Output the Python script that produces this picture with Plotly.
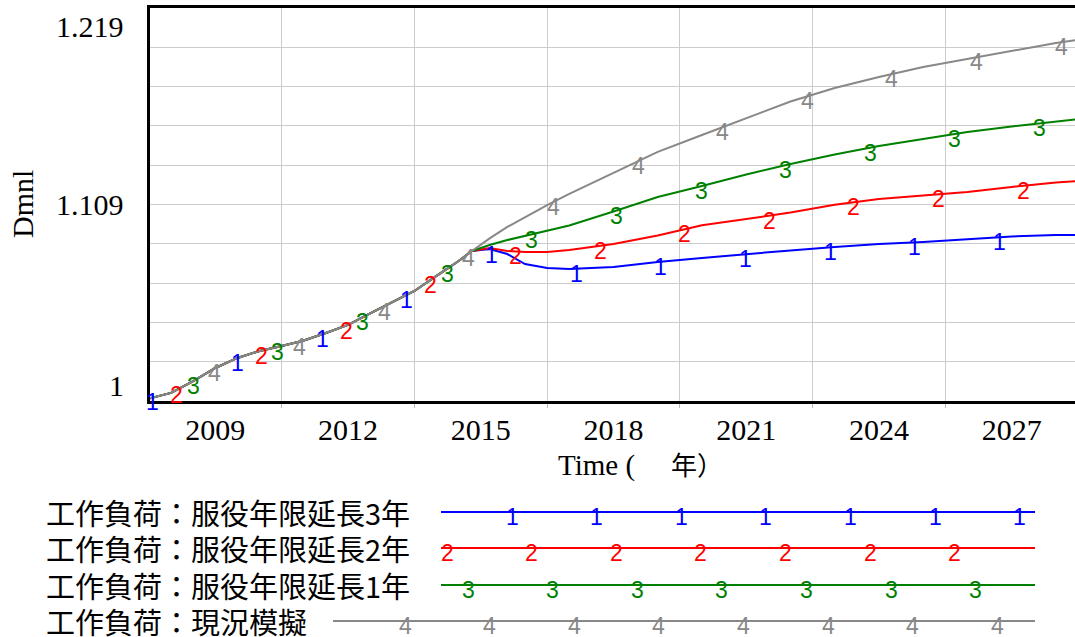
import numpy as np
import plotly.graph_objects as go

# Simulation time (years)
time = [2007.5, 2008, 2008.5, 2009, 2009.5, 2010, 2010.5, 2011, 2011.5, 2012,
        2012.5, 2013, 2013.5, 2014, 2014.5, 2014.8, 2015.2, 2015.6, 2016, 2016.5,
        2017, 2018, 2019, 2020, 2021, 2022, 2023, 2024, 2025, 2026, 2027, 2028, 2028.5]

# 工作負荷 (Dmnl) under each scenario
extend_3yr = [1.0014, 1.0045, 1.0111, 1.0184, 1.0240, 1.0279, 1.0306, 1.0337, 1.0379, 1.0424,
              1.0488, 1.0549, 1.0613, 1.0697, 1.0780, 1.0836, 1.0847, 1.0819, 1.0763, 1.0741,
              1.0736, 1.0747, 1.0775, 1.0797, 1.0819, 1.0839, 1.0858, 1.0875, 1.0886, 1.0900,
              1.0917, 1.0925, 1.0925]
extend_2yr = [1.0014, 1.0045, 1.0111, 1.0184, 1.0240, 1.0279, 1.0306, 1.0337, 1.0379, 1.0424,
              1.0488, 1.0549, 1.0613, 1.0697, 1.0780, 1.0836, 1.0853, 1.0836, 1.0830, 1.0830,
              1.0841, 1.0875, 1.0922, 1.0979, 1.1014, 1.1050, 1.1093, 1.1126, 1.1145, 1.1165,
              1.1193, 1.1218, 1.1226]
extend_1yr = [1.0014, 1.0045, 1.0111, 1.0184, 1.0240, 1.0279, 1.0306, 1.0337, 1.0379, 1.0424,
              1.0488, 1.0549, 1.0613, 1.0697, 1.0780, 1.0836, 1.0869, 1.0897, 1.0919, 1.0947,
              1.0978, 1.1056, 1.1137, 1.1198, 1.1262, 1.1321, 1.1374, 1.1421, 1.1460, 1.1499,
              1.1530, 1.1560, 1.1571]
baseline = [1.0014, 1.0045, 1.0111, 1.0184, 1.0240, 1.0279, 1.0306, 1.0337, 1.0379, 1.0424,
            1.0488, 1.0549, 1.0613, 1.0697, 1.0780, 1.0836, 1.0906, 1.0970, 1.1025, 1.1092,
            1.1154, 1.1271, 1.1388, 1.1482, 1.1574, 1.1669, 1.1744, 1.1806, 1.1861, 1.1906,
            1.1950, 1.1995, 1.2012]

series_names = ["工作負荷：服役年限延長3年", "工作負荷：服役年限延長2年",
                "工作負荷：服役年限延長1年", "工作負荷：現況模擬"]
series_values = [extend_3yr, extend_2yr, extend_1yr, baseline]
series_colors = ["#0000ff", "#ff0000", "#008000", "#888888"]

x_tick_labels = [2009, 2012, 2015, 2018, 2021, 2024, 2027]
y_min, y_max = 1.0, 1.219
y_label_texts = ["1", "1.109", "1.219"]

# ---- geometry (pixels) ----
W, H = 1075, 637
PL, PR, PT, PB = 150, 1075, 8, 401
X0, X1 = 2007.523, 2028.432


def xp(px):
    return (px - PL) / (PR - PL)


def yp(py):
    return (PB - py) / (PB - PT)


DIGIT_FONT = dict(family="Liberation Sans, Arial, sans-serif", size=23)
SERIF = "Liberation Serif, Times New Roman, serif"
CJK = "Noto Sans CJK TC, Noto Sans CJK JP, sans-serif"

fig = go.Figure()
annotations = []
shapes = []

# series lines with numbered identifiers along each curve
label_start = [2007.59, 2008.13, 2008.50, 2008.99]
label_step = 1.913
for i, (vals, color) in enumerate(zip(series_values, series_colors)):
    fig.add_trace(go.Scatter(x=time, y=vals, mode="lines",
                             line=dict(color=color, width=2),
                             showlegend=False, hoverinfo="skip"))
    t_lab = label_start[i] + label_step * np.arange(11)
    t_lab = t_lab[t_lab <= X1 - 0.1]
    y_lab = np.interp(t_lab, time, vals)
    for tx, ty in zip(t_lab, y_lab):
        annotations.append(dict(x=tx, y=ty, xref="x", yref="y", text=str(i + 1),
                                showarrow=False, yshift=-5,
                                xanchor="center", yanchor="middle",
                                font=dict(color=color, **DIGIT_FONT)))

# y-axis labels: bottom, middle, top
annotations += [
    dict(x=xp(126), y=y_min, xref="paper", yref="y", text=y_label_texts[0],
         xanchor="right", yanchor="bottom", yshift=-3, showarrow=False,
         font=dict(family=SERIF, size=30, color="black")),
    dict(x=xp(126), y=(y_min + y_max) / 2, xref="paper", yref="y", text=y_label_texts[1],
         xanchor="right", yanchor="middle", showarrow=False,
         font=dict(family=SERIF, size=30, color="black")),
    dict(x=xp(126), y=y_max, xref="paper", yref="y", text=y_label_texts[2],
         xanchor="right", yanchor="top", showarrow=False,
         font=dict(family=SERIF, size=30, color="black")),
]

# axis titles
annotations += [
    dict(x=xp(22), y=yp(204), xref="paper", yref="paper", text="Dmnl", textangle=-90,
         xanchor="center", yanchor="middle",
         showarrow=False, font=dict(family=SERIF, size=30, color="black")),
    dict(x=xp(596), y=yp(465), xref="paper", yref="paper", text="Time (",
         xanchor="center", yanchor="middle",
         showarrow=False, font=dict(family=SERIF, size=29, color="black")),
    dict(x=xp(697), y=yp(463), xref="paper", yref="paper", text="年）",
         xanchor="center", yanchor="middle",
         showarrow=False, font=dict(family=CJK, size=26, color="black")),
]

# legend block below the chart
legend_rows = [512, 548, 585, 621]
legend_line_start = [441, 441, 441, 333]
legend_mark_start = [512, 447, 468, 405]
legend_mark_count = [7, 7, 7, 8]
for i, name in enumerate(series_names):
    row = legend_rows[i]
    annotations.append(dict(x=xp(44), y=yp(row), xref="paper", yref="paper", text=name,
                            xanchor="left", yanchor="middle", showarrow=False,
                            font=dict(family=CJK, size=29, color="black")))
    shapes.append(dict(type="line", xref="paper", yref="paper",
                       x0=xp(legend_line_start[i]), x1=xp(1035), y0=yp(row), y1=yp(row),
                       line=dict(color=series_colors[i], width=2)))
    for k in range(legend_mark_count[i]):
        annotations.append(dict(x=xp(legend_mark_start[i] + 84.6 * k), y=yp(row + 5),
                                xref="paper", yref="paper", text=str(i + 1),
                                xanchor="center", yanchor="middle",
                                showarrow=False,
                                font=dict(color=series_colors[i], **DIGIT_FONT)))

fig.update_layout(
    width=W, height=H,
    margin=dict(l=PL, r=W - PR, t=PT, b=H - PB),
    plot_bgcolor="white", paper_bgcolor="white",
    showlegend=False,
    annotations=annotations, shapes=shapes,
)
fig.update_xaxes(
    range=[X0, X1], tickmode="array", tickvals=x_tick_labels,
    ticktext=[str(v) for v in x_tick_labels],
    tickfont=dict(family=SERIF, size=30, color="black"),
    showgrid=False, ticks="", zeroline=False,
    showline=True, linecolor="black", linewidth=3, mirror=True,
    minor=dict(tickmode="array", tickvals=[2010.5, 2013.5, 2016.5, 2019.5, 2022.5, 2025.5, 2028.5],
               showgrid=True, gridcolor="#cccccc", gridwidth=1,
               ticks="outside", ticklen=4, tickcolor="#bbbbbb"),
)
fig.update_yaxes(
    range=[y_min, y_max], tickmode="array",
    tickvals=list(np.linspace(y_min, y_max, 11)),
    showticklabels=False, ticks="", showgrid=True, gridcolor="#cccccc", gridwidth=1,
    zeroline=False, showline=True, linecolor="black", linewidth=3, mirror=False,
)

fig.write_html("out.html")
